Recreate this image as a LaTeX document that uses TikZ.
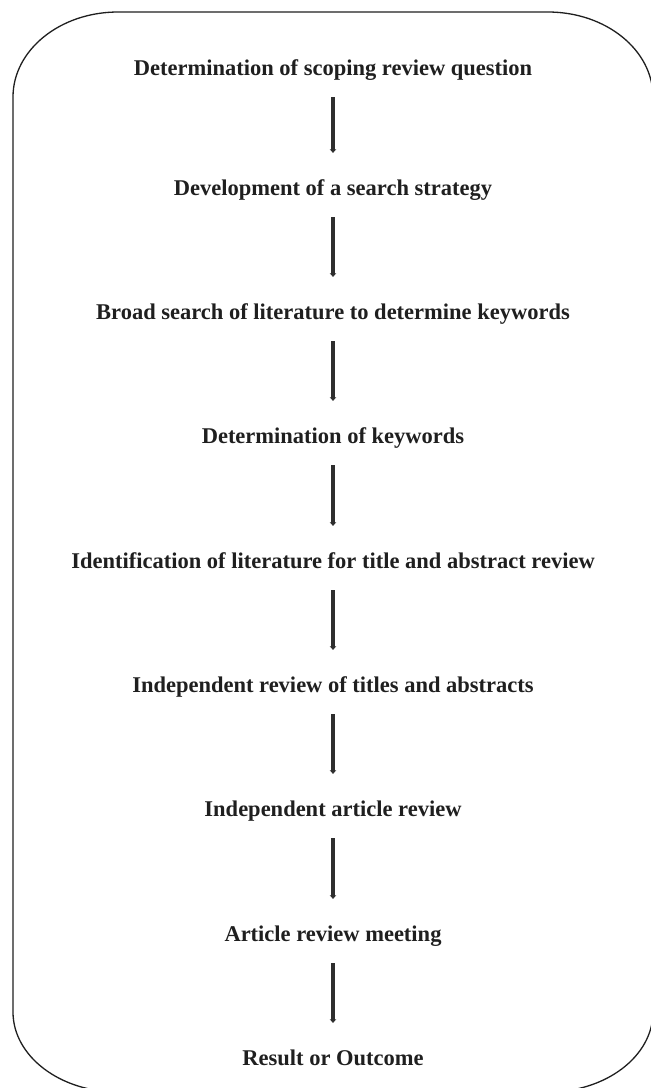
\documentclass[tikz,border=0pt]{standalone}
\usepackage{fontspec}
\setmainfont{Liberation Serif}
\usetikzlibrary{arrows.meta}
\tikzset{
  stepnode/.style={font=\fontsize{22.5}{26}\selectfont\bfseries, text=black!88, inner sep=0pt,
    text height=16pt, text depth=5pt, anchor=base},
  arr/.style={draw=black!82, line width=4.2pt, -{Triangle[width=6.5pt,length=3.5pt]},
    shorten <=17pt, shorten >=26pt},
  frame/.style={draw=black!88, line width=1.3pt}
}
\begin{document}
\begin{tikzpicture}[x=1pt,y=-1pt]
\useasboundingbox (0,0) rectangle (651,1088);
\draw[frame] (13,97) arc[x radius=105, y radius=85, start angle=180, end angle=270]
  -- (548,12) arc[x radius=105, y radius=85, start angle=270, end angle=360]
  -- (653,1012) arc[x radius=105, y radius=80, start angle=0, end angle=90]
  -- (118,1092) arc[x radius=105, y radius=80, start angle=90, end angle=180] -- cycle;
\node[stepnode] (s1) at (333,75) {Determination of scoping review question};
\node[stepnode] (s2) at (333,195) {Development of a search strategy};
\node[stepnode] (s3) at (333,319) {Broad search of literature to determine keywords};
\node[stepnode] (s4) at (333,443) {Determination of keywords};
\node[stepnode] (s5) at (333,568) {Identification of literature for title and abstract review};
\node[stepnode] (s6) at (333,692) {Independent review of titles and abstracts};
\node[stepnode] (s7) at (333,816) {Independent article review};
\node[stepnode] (s8) at (333,941) {Article review meeting};
\node[stepnode] (s9) at (333,1065) {Result or Outcome};
\foreach \a/\b in {s1/s2,s2/s3,s3/s4,s4/s5,s5/s6,s6/s7,s7/s8,s8/s9}
  \draw[arr] (\a.south) -- (\b.north);
\end{tikzpicture}
\end{document}
